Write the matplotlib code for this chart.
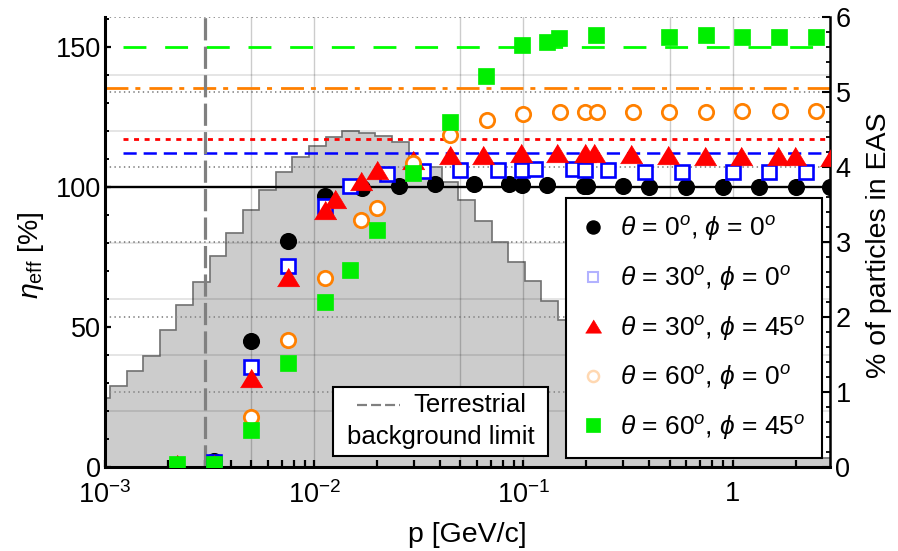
import numpy as np
import matplotlib
matplotlib.use("Agg")
import matplotlib.pyplot as plt
from matplotlib.lines import Line2D
from matplotlib.patches import Rectangle
from matplotlib.ticker import FixedLocator, FixedFormatter, LogLocator, NullFormatter, MultipleLocator

# ---------------------------------------------------------------- data
# momentum spectrum of EAS particles (% per log bin), right axis
hist_log_start = -3.0554
hist_dlog = 0.0793
hist_pct = [0.91, 1.08, 1.28, 1.47, 1.82, 2.16, 2.46, 2.81, 3.12, 3.42,
            3.69, 3.93, 4.13, 4.27, 4.40, 4.47, 4.45, 4.41, 4.33, 4.01,
            4.00, 3.80, 3.56, 3.28, 3.00, 2.73, 2.47, 2.21, 1.95, 1.68,
            1.42, 1.17, 0.94, 0.74, 0.57, 0.43, 0.32, 0.24, 0.18, 0.14,
            0.12, 0.11, 0.11, 0.11, 0.11]

# detection efficiency vs momentum for each incidence direction
black_p = [0.00333, 0.005, 0.0075, 0.01125, 0.0169, 0.0253, 0.038, 0.058, 0.0854, 0.099,
           0.129, 0.195, 0.201, 0.298, 0.40, 0.60, 0.90, 1.34, 2.0, 2.93]
black_eta = [2.2, 45, 80.5, 96.6, 99.4, 100.2, 101, 100.8, 100.8, 100.6,
             100.6, 100.4, 100.4, 100.2, 100, 99.8, 99.8, 99.8, 99.8, 99.8]

blue_p = [0.00333, 0.005, 0.0075, 0.01125, 0.0148, 0.0222, 0.033, 0.0497, 0.0757, 0.098,
          0.1134, 0.172, 0.1975, 0.254, 0.382, 0.573, 1.0, 1.50, 2.24]
blue_eta = [1.5, 35.5, 71.8, 93.2, 100.4, 104.4, 105.6, 105.8, 106, 106,
            106.4, 106.4, 106, 106, 105.4, 105.4, 105.4, 105.4, 105.4]

red_p = [0.00222, 0.00333, 0.005, 0.0075, 0.01125, 0.01256, 0.0168, 0.0199, 0.0297, 0.0445,
         0.0642, 0.0975, 0.145, 0.1975, 0.218, 0.327, 0.491, 0.736, 1.10, 1.65, 1.98, 2.94]
red_eta = [0.8, 1.0, 31.6, 67.9, 91.7, 95.6, 102.1, 106, 109.5, 111.2,
           111.3, 111.9, 112.1, 111.9, 111.9, 111.6, 111.3, 111.1, 111.1, 111.1, 111.1, 110.7]

orange_p = [0.005, 0.0075, 0.01125, 0.0168, 0.0199, 0.0297, 0.0445, 0.0669, 0.100, 0.1497,
            0.1975, 0.2255, 0.335, 0.497, 0.746, 1.114, 1.679, 2.514]
orange_eta = [17.9, 45.2, 67.3, 88.1, 92.3, 108.6, 118.5, 123.8, 126, 126.6,
              126.8, 126.8, 126.8, 126.8, 126.8, 127, 127, 127.2]

green_p = [0.00222, 0.00333, 0.005, 0.0075, 0.01125, 0.0148, 0.0199, 0.0297, 0.0445, 0.0665,
           0.099, 0.129, 0.1487, 0.2235, 0.4966, 0.7436, 1.114, 1.666, 2.514]
green_eta = [0.8, 0.8, 13.1, 36.9, 58.9, 70.2, 84.5, 104.8, 123.2, 139.5,
             150.6, 151.8, 153, 154.3, 153.6, 154, 153.6, 153.4, 153.4]

# mean efficiency levels (horizontal reference lines)
level_black = 100.0
level_blue = 112.0
level_red = 117.0
level_orange = 135.4
level_green = 149.8

terrestrial_limit = 3e-3

series_labels = [r"$\theta$ = 0$^{o}$, $\phi$ = 0$^{o}$",
                 r"$\theta$ = 30$^{o}$, $\phi$ = 0$^{o}$",
                 r"$\theta$ = 30$^{o}$, $\phi$ = 45$^{o}$",
                 r"$\theta$ = 60$^{o}$, $\phi$ = 0$^{o}$",
                 r"$\theta$ = 60$^{o}$, $\phi$ = 45$^{o}$"]

x_tick_vals = [1e-3, 1e-2, 1e-1, 1]
x_tick_labels = [r"$10^{-3}$", r"$10^{-2}$", r"$10^{-1}$", "1"]

# ---------------------------------------------------------------- style
plt.rcParams["font.family"] = ["Liberation Sans", "DejaVu Sans"]
plt.rcParams["mathtext.fontset"] = "custom"
plt.rcParams["mathtext.rm"] = "Liberation Sans"
plt.rcParams["mathtext.it"] = "Liberation Sans:italic"
plt.rcParams["mathtext.bf"] = "Liberation Sans:bold"
plt.rcParams["lines.scale_dashes"] = False

FS_TICK = 19.5
FS_LABEL = 20.5
FS_LEG = 19
FS_KEY = 18.5
C_BLUE = "#0000ff"
C_RED = "#ff0000"
C_ORANGE = "#ff8000"
C_GREEN = "#00ee00"

fig = plt.figure(figsize=(8.98, 5.51), dpi=100)
ax = fig.add_axes([0.1169, 0.1530, 0.8073, 0.8167])
ax2 = ax.twinx()
ax.set_zorder(ax2.get_zorder() + 1)
ax.patch.set_visible(False)

# ---------------------------------------------------------------- histogram (right axis)
edges = np.logspace(hist_log_start, hist_log_start + hist_dlog * len(hist_pct), len(hist_pct) + 1)
ax2.stairs(hist_pct, edges, fill=True, facecolor="#cccccc", edgecolor="none", zorder=1)
ax2.stairs(hist_pct, edges, color="#707070", lw=1.2, zorder=1.1)
ax2.set_ylim(0, 6)
ax2.yaxis.set_major_locator(MultipleLocator(1))
ax2.yaxis.set_minor_locator(MultipleLocator(0.2))
ax2.grid(True, which="major", axis="y", color="#8a8a8a", lw=1.3, ls=(0, (1.0, 2.4)), zorder=1.5)
ax2.set_axisbelow(False)
for s in ax2.spines.values():
    s.set_visible(False)
ax2.tick_params(axis="y", which="major", direction="in", length=5.5, width=1.5,
                labelsize=FS_TICK, pad=4, right=True)
ax2.tick_params(axis="y", which="minor", direction="in", length=3, width=1.3, right=True)
ax2.set_ylabel("% of particles in EAS", fontsize=FS_LABEL)
ax2.yaxis.set_label_coords(1.050, 0.493)

# ---------------------------------------------------------------- main axis
ax.set_xscale("log")
ax.set_xlim(1e-3, 2.92)
ax.set_ylim(0, 160.7)

# light grid
for gy in [20, 40, 60, 80, 120, 140]:
    ax.axhline(gy, color="black", alpha=0.12, lw=1.2, zorder=0.5)
for gx in [5e-3, 1e-2, 5e-2, 1e-1, 5e-1, 1]:
    ax.axvline(gx, color="black", alpha=0.2, lw=1.0, zorder=0.5)

# reference levels
ax.axhline(level_black, color="black", lw=1.7, zorder=2)
ax.hlines(level_blue, 1.22e-3, 2.92, color=C_BLUE, lw=1.8, ls=(0, (9.5, 5.0)), zorder=2)
ax.hlines(level_red, 1.22e-3, 2.92, color=C_RED, lw=2.0, ls=(0, (3.6, 4.0)), zorder=2)
ax.hlines(level_orange, 1e-3, 2.92, color=C_ORANGE, lw=2.0,
          ls=(0, (16.5, 5.0, 3.6, 6.5)), zorder=2)
ax.hlines(level_green, 1.22e-3, 2.92, color="#00ff00", lw=2.0, ls=(0, (16.5, 13.5)), zorder=2)

ax.axvline(terrestrial_limit, color="#808080", lw=2.3, ls=(0, (16, 4.5)), zorder=2.5)

# efficiency points
tri = [(-1, -0.83), (1, -0.83), (0, 0.83)]
ax.plot(black_p, black_eta, ls="none", marker="o", ms=11.3, mfc="black", mec="black", zorder=3)
ax.plot(blue_p, blue_eta, ls="none", marker="s", ms=10.3, mfc="white", mec=C_BLUE, mew=1.9, zorder=3.1)
ax.plot(red_p, red_eta, ls="none", marker=tri, ms=16, mfc=C_RED, mec=C_RED, mew=0.5, zorder=3.2)
ax.plot(orange_p, orange_eta, ls="none", marker="o", ms=10.3, mfc="white", mec=C_ORANGE, mew=2.0, zorder=3.3)
ax.plot(green_p, green_eta, ls="none", marker="s", ms=11.8, mfc=C_GREEN, mec=C_GREEN, mew=0.5, zorder=3.4)

# axes cosmetics
ax.spines["top"].set_visible(False)
ax.spines["left"].set_linewidth(2.2)
ax.spines["bottom"].set_linewidth(2.2)
ax.spines["right"].set_linewidth(1.8)

ax.xaxis.set_major_locator(FixedLocator(x_tick_vals))
ax.xaxis.set_major_formatter(FixedFormatter(x_tick_labels))
ax.xaxis.set_minor_locator(LogLocator(base=10, subs=np.arange(2, 10)))
ax.xaxis.set_minor_formatter(NullFormatter())
ax.yaxis.set_major_locator(MultipleLocator(50))
ax.yaxis.set_minor_locator(MultipleLocator(10))

ax.tick_params(axis="x", which="both", direction="in", length=5, width=1.6,
               labelsize=FS_TICK, pad=10.5, top=False)
ax.tick_params(axis="y", which="major", direction="in", length=4, width=1.6,
               labelsize=FS_TICK, pad=3, right=False)
ax.tick_params(axis="y", which="minor", direction="in", length=2.6, width=1.4, right=False)

ax.set_xlabel("p [GeV/c]", fontsize=FS_LABEL)
ax.xaxis.set_label_coords(0.5, -0.122)
ax.set_ylabel(r"$\eta_{\rm eff}$ [%]", fontsize=FS_LABEL)
ax.yaxis.set_label_coords(-0.082, 0.47)

# ---------------------------------------------------------------- legends
handles = [
    Line2D([], [], ls="none", marker="o", ms=9.4, mfc="black", mec="black"),
    Line2D([], [], ls="none", marker="s", ms=7.6, mfc="white", mec=C_BLUE, mew=1.5, alpha=0.3),
    Line2D([], [], ls="none", marker=tri, ms=11.5, mfc=C_RED, mec=C_RED, mew=0.5),
    Line2D([], [], ls="none", marker="o", ms=8.0, mfc="white", mec=C_ORANGE, mew=1.8, alpha=0.3),
    Line2D([], [], ls="none", marker="s", ms=10, mfc=C_GREEN, mec=C_GREEN, mew=0.5),
]
leg = ax.legend(handles, series_labels, loc="upper left", bbox_to_anchor=(0.636, 0.597),
                borderaxespad=0, frameon=True, fancybox=False, edgecolor="black",
                framealpha=1, fontsize=FS_LEG, labelspacing=0.78, handlelength=0.8,
                handletextpad=0.62, borderpad=0.62)
leg.get_frame().set_linewidth(1.5)
leg.set_zorder(10)

# terrestrial background limit key
ax.add_patch(Rectangle((0.3145, 0.0238), 0.2966, 0.1533, transform=ax.transAxes,
                       facecolor="white", edgecolor="black", lw=1.5, zorder=9))
ax.plot([0.3476, 0.4069], [0.137, 0.137], transform=ax.transAxes, color="#808080",
        lw=1.6, ls=(0, (7.2, 2.9)), zorder=9.5, clip_on=False)
ax.text(0.4248, 0.137, "Terrestrial", transform=ax.transAxes, ha="left", va="center",
        fontsize=FS_KEY, zorder=9.5)
ax.text(0.3338, 0.066, "background limit", transform=ax.transAxes, ha="left", va="center",
        fontsize=FS_KEY, zorder=9.5)

fig.savefig("out.png", dpi=100)
